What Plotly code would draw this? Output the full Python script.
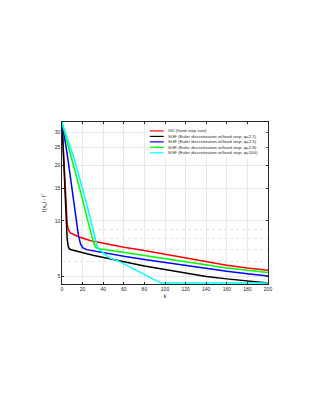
import plotly.graph_objects as go
import math

# ---- data ----
k_gd = [0, 1, 2, 3, 4, 5, 6, 8, 12, 16, 28, 45, 60, 77, 100, 120, 140, 160, 180, 200]
f_gd = [34, 26, 19.5, 14.5, 11.2, 9.7, 9.0, 8.6, 8.4, 8.2, 7.8, 7.45, 7.2, 6.95, 6.6, 6.25, 5.98, 5.75, 5.55, 5.4]

k_q21 = [0, 1, 2, 3, 4, 5, 6, 7, 10, 20, 30, 45, 60, 80, 100, 120, 140, 160, 180, 200]
f_q21 = [34, 25, 17.5, 12.5, 9.5, 8.0, 7.3, 7.05, 6.95, 6.7, 6.5, 6.25, 6.0, 5.7, 5.45, 5.21, 5.0, 4.85, 4.72, 4.6]

k_q25 = [0, 2, 4, 6, 8, 10, 12, 14, 16, 18, 20, 24, 30, 45, 60, 80, 100, 120, 140, 160, 180, 200]
f_q25 = [34, 29.5, 25, 21, 17.5, 14.3, 12, 9.9, 8.3, 7.5, 7.15, 6.98, 6.88, 6.65, 6.42, 6.17, 5.95, 5.73, 5.5, 5.33, 5.17, 5.02]

k_q28 = [0, 4, 8, 12, 16, 20, 24, 28, 31, 33, 36, 45, 60, 80, 100, 120, 140, 160, 180, 200]
f_q28 = [34, 28, 23, 19.5, 16, 13, 10.5, 8.5, 7.5, 7.15, 7.05, 6.95, 6.75, 6.5, 6.25, 5.97, 5.75, 5.55, 5.4, 5.25]

k_q100 = [0, 4, 8, 12, 16, 20, 24, 28, 31, 34, 38, 46, 55, 65, 75, 85, 96, 200]
f_q100 = [34, 29.5, 25, 21.5, 18, 15, 12.3, 10, 8.4, 7.3, 6.85, 6.3, 6.05, 5.65, 5.3, 4.95, 4.6, 4.6]

names = [
    "GD (fixed step size)",
    "SGF (Euler discretization w/fixed step; q=2.1)",
    "SGF (Euler discretization w/fixed step; q=2.5)",
    "SGF (Euler discretization w/fixed step; q=2.8)",
    "SGF (Euler discretization w/fixed step; q=100)",
]
colors = ["#ff0000", "#000000", "#0000ff", "#00ff00", "#00ffff"]
series_k = [k_gd, k_q21, k_q25, k_q28, k_q100]
series_f = [f_gd, f_q21, f_q25, f_q28, f_q100]

x_ticks = [0, 20, 40, 60, 80, 100, 120, 140, 160, 180, 200]
y_ticks = [5, 10, 15, 20, 25, 30]
y_minor = [6, 7, 8, 9]
y_range = [4.55, 34.2]

FONT = "Liberation Sans"
AX = "#262626"

# page offset compensation (browser body margin)
OFF = 7.5
W, H = 319 - 8, 413 - 8
L, T = 61 - OFF, 121 - OFF
PW, PH = 206.5, 163
R = W - L - PW
B = H - T - PH

fig = go.Figure()
for kk, ff, nm, c in zip(series_k, series_f, names, colors):
    fig.add_trace(go.Scatter(x=kk, y=ff, mode="lines", name=nm,
                             line=dict(color=c, width=1.5), showlegend=False,
                             cliponaxis=False))

fig.add_trace(go.Scatter(x=[0], y=[10], yaxis="y2", mode="markers",
                         marker=dict(opacity=0), showlegend=False, hoverinfo="skip"))

fig.update_layout(
    width=W, height=H,
    margin=dict(l=L, r=R, t=T, b=B),
    paper_bgcolor="white", plot_bgcolor="white",
    font=dict(family=FONT, size=5, color=AX),
    xaxis=dict(range=[0, 200], tickvals=x_ticks, ticks="inside", ticklen=2,
               tickwidth=0.5, tickcolor=AX,
               showline=True, linecolor=AX, linewidth=0.6, mirror="ticks",
               showgrid=True, gridcolor="#e8e8e8", gridwidth=0.5, zeroline=False,
               tickfont=dict(size=5, color=AX),
               title=dict(text="k", font=dict(size=5.5, color=AX), standoff=3)),
    yaxis=dict(type="log", range=[math.log10(y_range[0]), math.log10(y_range[1])],
               tickvals=y_ticks, ticktext=[str(v) for v in y_ticks],
               ticks="inside", ticklen=2, tickwidth=0.5, tickcolor=AX,
               showline=True, linecolor=AX, linewidth=0.6, mirror="ticks",
               showgrid=True, gridcolor="#e8e8e8", gridwidth=0.5, zeroline=False,
               tickfont=dict(size=5, color=AX),
               title=dict(text="f(x<sub>k</sub>) - f<sup>*</sup>",
                          font=dict(size=5.5, color=AX), standoff=7)),
    yaxis2=dict(type="log", overlaying="y", range=[math.log10(y_range[0]), math.log10(y_range[1])],
                tickvals=y_minor, showticklabels=False, ticks="",
                showgrid=True, gridcolor="#e3e3e3", gridwidth=0.5, griddash="dot",
                showline=False, zeroline=False, layer="below traces"),
)

def px_to_paper_x(px):
    return (px - 61) / PW
def px_to_paper_y(py):
    return 1 - (py - 121) / PH

leg_x0, leg_x1 = 146, 266
leg_y0, leg_y1 = 125, 157
fig.add_shape(type="rect", xref="paper", yref="paper",
              x0=px_to_paper_x(leg_x0), x1=px_to_paper_x(leg_x1),
              y0=px_to_paper_y(leg_y1), y1=px_to_paper_y(leg_y0),
              fillcolor="white", line=dict(width=0), layer="above")
row_y = [130, 135.5, 141, 146.5, 152]
for ry, nm, c in zip(row_y, names, colors):
    fig.add_shape(type="line", xref="paper", yref="paper",
                  x0=px_to_paper_x(149), x1=px_to_paper_x(163),
                  y0=px_to_paper_y(ry), y1=px_to_paper_y(ry),
                  line=dict(color=c, width=1.2), layer="above")
    fig.add_annotation(xref="paper", yref="paper", x=px_to_paper_x(165), y=px_to_paper_y(ry),
                       text=nm, showarrow=False, xanchor="left", yanchor="middle",
                       font=dict(size=4.4, color=AX, family=FONT))

fig.write_html("out.html")
